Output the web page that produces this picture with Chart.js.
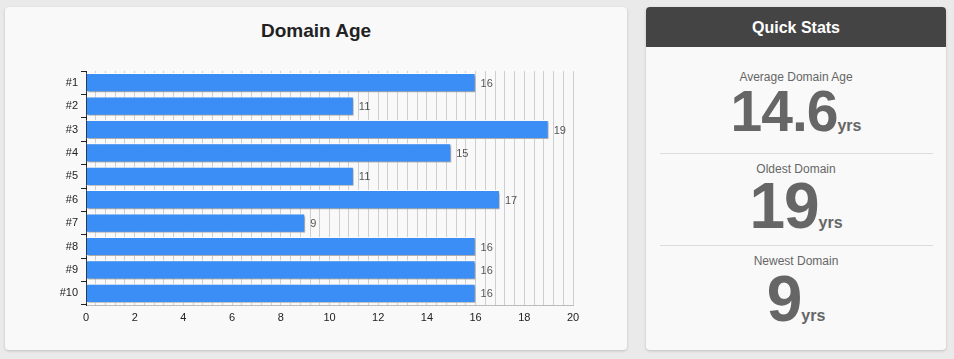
<!DOCTYPE html>
<html>
<head>
<meta charset="utf-8">
<script src="https://cdn.jsdelivr.net/npm/chart.js@4/dist/chart.umd.min.js"></script>
<style>
  body { margin: 0; background: #eaeaea; font-family: "Liberation Sans", Arial, sans-serif; width: 954px; height: 359px; position: relative; overflow: hidden; }
  .panel { position: absolute; background: #f9f9f9; border-radius: 4px; box-shadow: 0 1px 3px rgba(0,0,0,0.18); }
  #left { left: 5px; top: 7px; width: 622px; height: 343px; }
  #left canvas { position: absolute; left: 0; top: 0; }
  #title { position: absolute; left: 0; top: 13px; width: 622px; text-align: center; font-size: 19px; font-weight: bold; color: #222; line-height: 22px; }
  #right { left: 646px; top: 7px; width: 300px; height: 343px; overflow: hidden; }
  .head { height: 40px; background: #444; color: #fff; font-weight: bold; font-size: 16px; text-align: center; line-height: 41px; }
  .lbl { position: absolute; left: 0; width: 300px; text-align: center; font-size: 12px; color: #666; line-height: 14px; }
  .big { position: absolute; left: 0; width: 300px; text-align: center; font-weight: bold; color: #666; letter-spacing: -1px; }
  .big span { font-size: 16px; letter-spacing: 0; }
  .sep { position: absolute; left: 14px; width: 273px; height: 1px; background: #dcdcdc; }
</style>
</head>
<body>
<div class="panel" id="left">
  <div id="title">Domain Age</div>
  <canvas id="domain-age" width="622" height="343"></canvas>
</div>
<div class="panel" id="right">
  <div class="head">Quick Stats</div>
  <div class="lbl" id="l0" style="top:63px"></div>
  <div class="big" id="v0" style="top:76px;font-size:57px;line-height:57px"></div>
  <div class="sep" style="top:146px"></div>
  <div class="lbl" id="l1" style="top:155px"></div>
  <div class="big" id="v1" style="top:167px;font-size:64px;line-height:64px"></div>
  <div class="sep" style="top:238px"></div>
  <div class="lbl" id="l2" style="top:247px"></div>
  <div class="big" id="v2" style="top:260px;font-size:64px;line-height:64px"></div>
</div>
<script>
// Domain ages
const categories = ["#1", "#2", "#3", "#4", "#5", "#6", "#7", "#8", "#9", "#10"];
const ages = [16, 11, 19, 15, 11, 17, 9, 16, 16, 16];

// Quick stats
const statLabels = ["Average Domain Age", "Oldest Domain", "Newest Domain"];
const statValues = ["14.6", "19", "9"];
const statUnit = "yrs";

statLabels.forEach((t, i) => {
  document.getElementById("l" + i).textContent = t;
  document.getElementById("v" + i).innerHTML = statValues[i] + "<span>" + statUnit + "</span>";
});

Chart.defaults.font.family = '"Liberation Sans", Arial, sans-serif';

const barDecor = {
  id: "barDecor",
  beforeDatasetsDraw(chart) {
    const ctx = chart.ctx;
    ctx.save();
    ctx.shadowColor = "rgba(0,0,0,0.35)";
    ctx.shadowOffsetX = 1.5;
    ctx.shadowOffsetY = 1.5;
    ctx.shadowBlur = 2;
  },
  afterDatasetsDraw(chart) {
    const ctx = chart.ctx;
    ctx.restore();
    ctx.save();
    ctx.font = "11px " + Chart.defaults.font.family;
    ctx.fillStyle = "#555";
    ctx.textBaseline = "middle";
    chart.getDatasetMeta(0).data.forEach((bar, i) => {
      ctx.fillText(ages[i], bar.x + 5, bar.y + 1);
    });
    ctx.restore();
  }
};

new Chart("domain-age", {
  type: "bar",
  data: {
    labels: categories,
    datasets: [{
      data: ages,
      backgroundColor: "#3a8ef5",
      borderColor: "#ffffff",
      borderWidth: 1,
      barPercentage: 1,
      categoryPercentage: 0.82
    }]
  },
  options: {
    indexAxis: "y",
    responsive: false,
    animation: false,
    devicePixelRatio: 1,
    layout: { padding: { left: 0, right: 54, top: 64, bottom: 25 } },
    plugins: {
      legend: { display: false },
      tooltip: { enabled: false }
    },
    scales: {
      x: {
        min: 0,
        max: 20,
        ticks: {
          stepSize: 0.4,
          autoSkip: false,
          maxRotation: 0,
          color: "#222",
          font: { size: 11 },
          padding: 6,
          callback: v => Math.abs(v / 2 - Math.round(v / 2)) < 1e-6 ? Math.round(v) : ""
        },
        grid: { color: "#cfcfcf", drawTicks: false },
        border: { color: "#bbb" },
        afterFit(s) { s.height = 20; }
      },
      y: {
        ticks: { color: "#222", font: { size: 11 }, padding: 3 },
        grid: { offset: true, drawOnChartArea: false, drawTicks: true, tickLength: 5, tickColor: "#222" },
        border: { color: "#222" },
        afterFit(s) { s.width = 81; }
      }
    }
  },
  plugins: [barDecor]
});
</script>
</body>
</html>
